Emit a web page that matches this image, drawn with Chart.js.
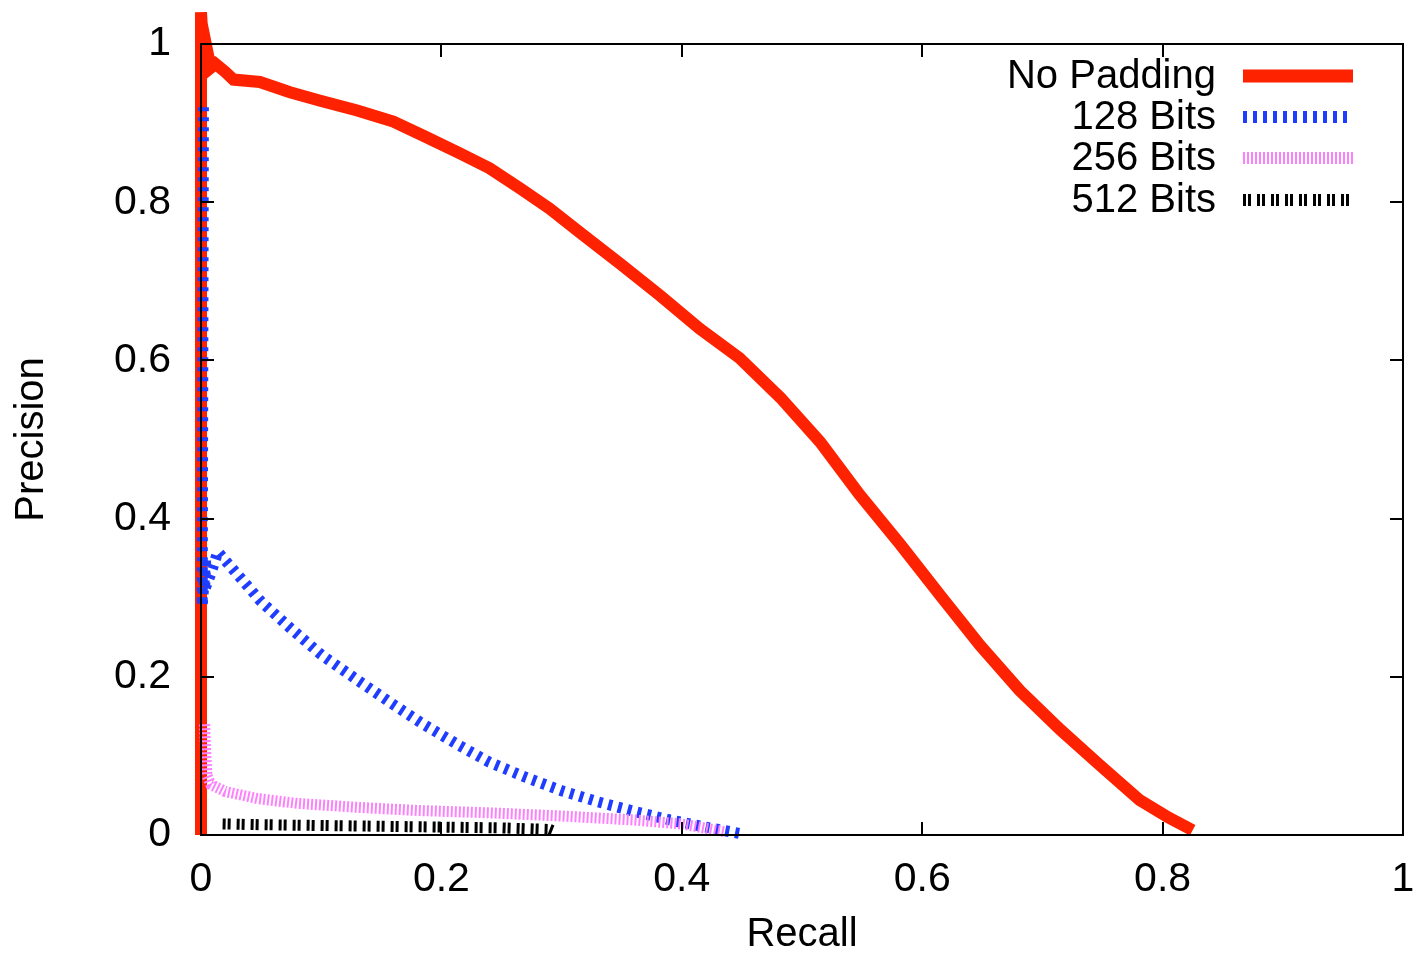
<!DOCTYPE html>
<html>
<head>
<meta charset="utf-8">
<script src="https://cdn.jsdelivr.net/npm/chart.js@4.4.1/dist/chart.umd.min.js"></script>
<style>
  body { margin: 0; background: #fff; }
  canvas { display: block; }
</style>
</head>
<body>
<canvas id="prChart" width="1417" height="955"></canvas>
<script>
// series values (recall, precision)
const seriesLabels = ['No Padding', '128 Bits', '256 Bits', '512 Bits'];

const noPadRecall = [0, 0, 0.002, 0.004, 0.008, 0.012, 0.02, 0.027, 0.049, 0.074, 0.10, 0.13, 0.16, 0.185, 0.215, 0.24, 0.265, 0.29, 0.315, 0.349, 0.382, 0.415, 0.448, 0.482, 0.515, 0.548, 0.582, 0.615, 0.648, 0.681, 0.715, 0.748, 0.781, 0.805, 0.825];
const noPadPrecision = [0, 1.04, 0.99, 1.0, 0.97, 0.975, 0.965, 0.955, 0.952, 0.939, 0.928, 0.916, 0.902, 0.884, 0.862, 0.843, 0.818, 0.792, 0.762, 0.722, 0.682, 0.64, 0.603, 0.553, 0.497, 0.43, 0.367, 0.303, 0.240, 0.183, 0.133, 0.088, 0.044, 0.022, 0.006];

const bits128Recall = [0.002, 0.001, 0.004, 0.003, 0.008, 0.014, 0.03, 0.05, 0.074, 0.10, 0.13, 0.16, 0.185, 0.215, 0.24, 0.27, 0.30, 0.33, 0.36, 0.39, 0.42, 0.448];
const bits128Precision = [0.92, 0.29, 0.35, 0.31, 0.33, 0.358, 0.33, 0.295, 0.262, 0.228, 0.196, 0.165, 0.140, 0.113, 0.092, 0.073, 0.056, 0.042, 0.030, 0.019, 0.010, 0.002];

const bits256Recall = [0.003, 0.004, 0.005, 0.008, 0.02, 0.047, 0.08, 0.13, 0.18, 0.24, 0.30, 0.36, 0.40, 0.436];
const bits256Precision = [0.14, 0.1, 0.075, 0.064, 0.055, 0.046, 0.040, 0.035, 0.031, 0.028, 0.024, 0.019, 0.014, 0.004];

const bits512Recall = [0.018, 0.05, 0.1, 0.15, 0.2, 0.25, 0.29, 0.295];
const bits512Precision = [0.014, 0.013, 0.012, 0.011, 0.010, 0.009, 0.007, 0.004];

const tickValues = [0, 0.2, 0.4, 0.6, 0.8, 1];

const FONT = "'Liberation Sans', Arial, sans-serif";

function toPoints(xs, ys) {
  return xs.map((x, i) => ({ x: x, y: ys[i] }));
}

// gnuplot style box with ticks pointing inward, on all four sides
const frameTicks = {
  id: 'frameTicks',
  afterDatasetsDraw(chart) {
    const { ctx, chartArea: a, scales } = chart;
    const len = 13;
    ctx.save();
    ctx.strokeStyle = '#000';
    ctx.lineWidth = 2;
    ctx.beginPath();
    tickValues.forEach(v => {
      const px = Math.round(scales.x.getPixelForValue(v));
      ctx.moveTo(px, a.bottom); ctx.lineTo(px, a.bottom - len);
      ctx.moveTo(px, a.top); ctx.lineTo(px, a.top + len);
      const py = Math.round(scales.y.getPixelForValue(v));
      ctx.moveTo(a.left, py); ctx.lineTo(a.left + len, py);
      ctx.moveTo(a.right, py); ctx.lineTo(a.right - len, py);
    });
    ctx.stroke();
    ctx.strokeRect(a.left, a.top, a.right - a.left, a.bottom - a.top);
    ctx.restore();
  }
};

// legend inside the plot, text right aligned with the line sample on its right
const keyBox = {
  id: 'keyBox',
  afterDraw(chart) {
    const ctx = chart.ctx;
    const textRight = 1216;
    const sx0 = 1243, sx1 = 1353;
    const rows = [76, 117, 158, 200];
    ctx.save();
    ctx.font = '40px ' + FONT;
    ctx.textAlign = 'right';
    ctx.textBaseline = 'middle';
    chart.data.datasets.forEach((ds, i) => {
      const y = rows[i];
      ctx.fillStyle = '#000';
      ctx.fillText(ds.label, textRight, y + 1);
      ctx.beginPath();
      ctx.strokeStyle = ds.borderColor;
      ctx.lineWidth = ds.legendWidth;
      ctx.lineCap = 'butt';
      ctx.setLineDash(ds.borderDash || []);
      ctx.moveTo(sx0, y);
      ctx.lineTo(sx1, y);
      ctx.stroke();
    });
    ctx.restore();
  }
};

const config = {
  type: 'line',
  data: {
    datasets: [
      {
        label: seriesLabels[0],
        data: toPoints(noPadRecall, noPadPrecision),
        borderColor: '#ff2200',
        borderWidth: 12,
        legendWidth: 13,
        order: 4
      },
      {
        label: seriesLabels[1],
        data: toPoints(bits128Recall, bits128Precision),
        borderColor: '#1f3dff',
        borderWidth: 11,
        borderDash: [4, 6],
        legendWidth: 12,
        order: 3
      },
      {
        label: seriesLabels[2],
        data: toPoints(bits256Recall, bits256Precision),
        borderColor: '#ff80ff',
        borderWidth: 11,
        borderDash: [2, 2],
        legendWidth: 12,
        order: 2
      },
      {
        label: seriesLabels[3],
        data: toPoints(bits512Recall, bits512Precision),
        borderColor: '#000000',
        borderWidth: 11,
        borderDash: [3, 2, 3, 6],
        legendWidth: 12,
        order: 1
      }
    ]
  },
  options: {
    responsive: false,
    animation: false,
    clip: false,
    elements: {
      point: { radius: 0 },
      line: { tension: 0, borderCapStyle: 'butt', borderJoinStyle: 'miter' }
    },
    layout: { padding: { top: 44, right: 14, left: 0, bottom: 0 } },
    plugins: {
      legend: { display: false },
      tooltip: { enabled: false }
    },
    scales: {
      x: {
        type: 'linear',
        min: 0,
        max: 1,
        afterBuildTicks: s => { s.ticks = tickValues.map(v => ({ value: v })); },
        afterFit: s => { s.height = 120; s.paddingRight = 0; s.paddingLeft = 0; },
        grid: { display: false },
        border: { display: false },
        ticks: {
          padding: 12,
          color: '#000',
          maxRotation: 0,
          font: { family: FONT, size: 41 },
          callback: v => String(v)
        },
        title: {
          display: true,
          text: 'Recall',
          color: '#000',
          font: { family: FONT, size: 40, lineHeight: 1 },
          padding: { top: 0, bottom: 0 }
        }
      },
      y: {
        type: 'linear',
        min: 0,
        max: 1,
        afterBuildTicks: s => { s.ticks = tickValues.map(v => ({ value: v })); },
        afterFit: s => { s.width = 201; s.paddingTop = 0; s.paddingBottom = 0; },
        grid: { display: false },
        border: { display: false },
        ticks: {
          padding: 22,
          color: '#000',
          font: { family: FONT, size: 41 },
          callback: v => String(v)
        },
        title: {
          display: true,
          text: 'Precision',
          color: '#000',
          font: { family: FONT, size: 40, lineHeight: 1 },
          padding: { top: 12, bottom: 0 }
        }
      }
    }
  },
  plugins: [frameTicks, keyBox]
};

const prChart = new Chart(document.getElementById('prChart'), config);
</script>
</body>
</html>
